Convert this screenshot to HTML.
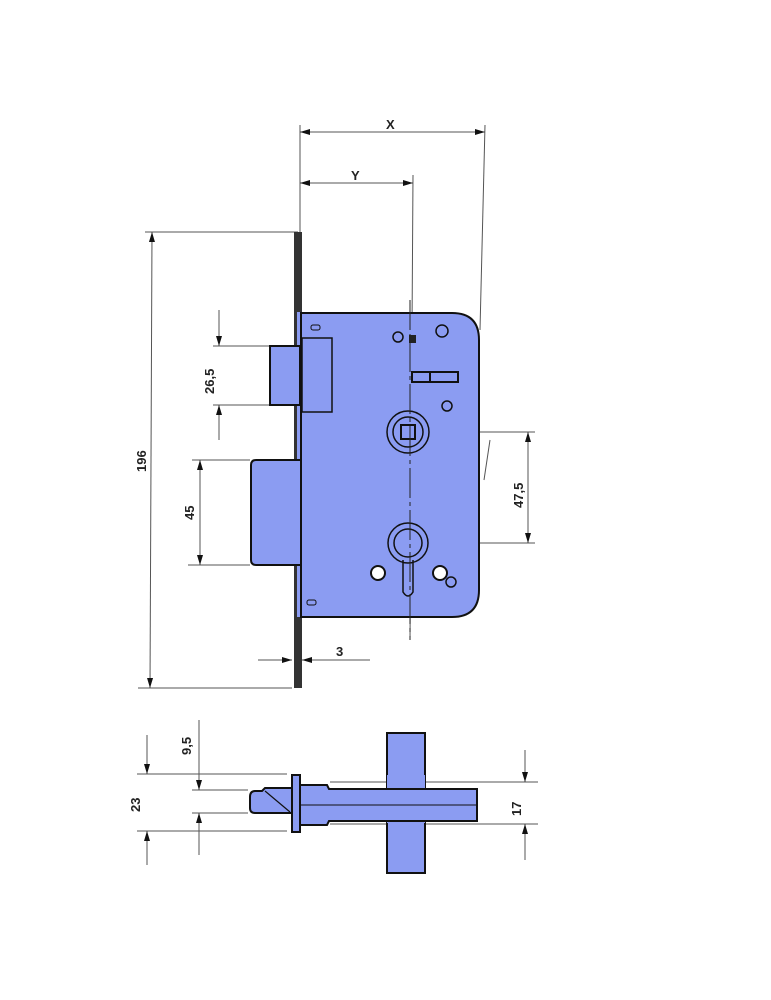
<!DOCTYPE html>
<html><head><meta charset="utf-8"><style>
html,body{margin:0;padding:0;background:#fff;}
svg{display:block;}
text{font-family:"Liberation Sans",sans-serif;font-size:13px;font-weight:bold;fill:#222;}
</style></head><body>
<svg width="771" height="1000" viewBox="0 0 771 1000" xmlns="http://www.w3.org/2000/svg">
<defs>
<marker id="a" viewBox="0 0 10 6" refX="10" refY="3" markerWidth="10" markerHeight="6" orient="auto-start-reverse" markerUnits="userSpaceOnUse">
<path d="M0,0 L10,3 L0,6 z" fill="#111"/></marker>
</defs>
<g stroke="#555" stroke-width="1" fill="none">
<line x1="300" y1="125" x2="300" y2="232"/>
<line x1="485" y1="125" x2="480" y2="330"/>
<line x1="413" y1="175" x2="410" y2="640"/>
<line x1="300" y1="132" x2="485" y2="132" marker-start="url(#a)" marker-end="url(#a)"/>
<line x1="300" y1="183" x2="413" y2="183" marker-start="url(#a)" marker-end="url(#a)"/>
<line x1="145" y1="232" x2="298" y2="232"/>
<line x1="138" y1="688" x2="292" y2="688"/>
<line x1="152" y1="232" x2="150" y2="688" marker-start="url(#a)" marker-end="url(#a)"/>
<line x1="213" y1="346" x2="270" y2="346"/>
<line x1="213" y1="405" x2="270" y2="405"/>
<line x1="219" y1="310" x2="219" y2="346" marker-end="url(#a)"/>
<line x1="219" y1="440" x2="219" y2="405" marker-end="url(#a)"/>
<line x1="192" y1="460" x2="250" y2="460"/>
<line x1="188" y1="565" x2="250" y2="565"/>
<line x1="200" y1="460" x2="200" y2="565" marker-start="url(#a)" marker-end="url(#a)"/>
<line x1="385" y1="432" x2="535" y2="432"/>
<line x1="385" y1="543" x2="535" y2="543"/>
<line x1="528" y1="432" x2="528" y2="543" marker-start="url(#a)" marker-end="url(#a)"/>
<line x1="490" y1="440" x2="484" y2="480"/>
<line x1="258" y1="660" x2="292" y2="660" marker-end="url(#a)"/>
<line x1="370" y1="660" x2="302" y2="660" marker-end="url(#a)"/>
</g>
<rect x="294" y="232" width="8" height="456" fill="#333"/>
<rect x="297" y="312" width="4" height="305" fill="#8b9cf2"/>
<rect x="270" y="346" width="30" height="59" fill="#8b9cf2" stroke="#111" stroke-width="2"/>
<path d="M300,460 L256,460 Q251,460 251,465 L251,560 Q251,565 256,565 L300,565" fill="#8b9cf2" stroke="#111" stroke-width="2"/>
<path d="M301,313 L452,313 Q479,313 479,340 L479,590 Q479,617 452,617 L301,617 z" fill="#8b9cf2" stroke="#111" stroke-width="2"/>
<rect x="302" y="338" width="30" height="74" fill="none" stroke="#111" stroke-width="1.5"/>
<rect x="311" y="325" width="9" height="5" rx="2" fill="none" stroke="#111"/>
<rect x="307" y="600" width="9" height="5" rx="2" fill="none" stroke="#111"/>
<circle cx="398" cy="337" r="5" fill="none" stroke="#111" stroke-width="1.5"/>
<rect x="409" y="335" width="7" height="8" fill="#222"/>
<circle cx="442" cy="331" r="6" fill="none" stroke="#111" stroke-width="1.5"/>
<rect x="412" y="372" width="46" height="10" fill="none" stroke="#111" stroke-width="2"/>
<line x1="430" y1="372" x2="430" y2="382" stroke="#111" stroke-width="2"/>
<circle cx="447" cy="406" r="5" fill="none" stroke="#111" stroke-width="1.5"/>
<circle cx="408" cy="432" r="21" fill="none" stroke="#111" stroke-width="1.5"/>
<circle cx="408" cy="432" r="15" fill="none" stroke="#111" stroke-width="1.5"/>
<rect x="401" y="425" width="14" height="14" fill="none" stroke="#111" stroke-width="2"/>
<circle cx="408" cy="543" r="20" fill="none" stroke="#111" stroke-width="1.5"/>
<circle cx="408" cy="543" r="14" fill="none" stroke="#111" stroke-width="1.5"/>
<path d="M403,560 L403,592 Q408,600 413,592 L413,560" fill="none" stroke="#111" stroke-width="1.5"/>
<circle cx="378" cy="573" r="7" fill="#fff" stroke="#111" stroke-width="2"/>
<circle cx="440" cy="573" r="7" fill="#fff" stroke="#111" stroke-width="2"/>
<circle cx="451" cy="582" r="5" fill="none" stroke="#111" stroke-width="1.5"/>
<g stroke="#222" stroke-width="1" stroke-dasharray="30,4,4,4">
<line x1="410" y1="300" x2="410" y2="640"/>
</g>
<g stroke="#555" stroke-width="1" fill="none">
<line x1="137" y1="774" x2="287" y2="774"/>
<line x1="137" y1="831" x2="287" y2="831"/>
<line x1="147" y1="735" x2="147" y2="774" marker-end="url(#a)"/>
<line x1="147" y1="865" x2="147" y2="831" marker-end="url(#a)"/>
<line x1="192" y1="790" x2="248" y2="790"/>
<line x1="192" y1="813" x2="248" y2="813"/>
<line x1="199" y1="720" x2="199" y2="790" marker-end="url(#a)"/>
<line x1="199" y1="855" x2="199" y2="813" marker-end="url(#a)"/>
<line x1="330" y1="782" x2="538" y2="782"/>
<line x1="330" y1="824" x2="538" y2="824"/>
<line x1="525" y1="750" x2="525" y2="782" marker-end="url(#a)"/>
<line x1="525" y1="860" x2="525" y2="824" marker-end="url(#a)"/>
</g>
<g fill="#8b9cf2" stroke="#111" stroke-width="2">
<rect x="387" y="733" width="38" height="140"/>
<path d="M300,785 L327,785 L329,789 L477,789 L477,821 L329,821 L327,825 L300,825 z"/>
<rect x="387" y="775" width="38" height="48" stroke="none"/>
<line x1="387" y1="789" x2="425" y2="789"/>
<line x1="387" y1="821" x2="425" y2="821"/>
<path d="M292,788 L265,788 L262,791 L255,791 Q250,791 250,797 L250,808 Q250,813 255,813 L292,813 z"/>
<rect x="292" y="775" width="8" height="57"/>
</g>
<line x1="265" y1="791" x2="290" y2="812" stroke="#111" stroke-width="1.2"/>
<line x1="300" y1="805" x2="477" y2="805" stroke="#111" stroke-width="1"/>
<text x="386" y="129">X</text>
<text x="351" y="180">Y</text>
<text x="336" y="656">3</text>
<text transform="translate(146,472) rotate(-90)">196</text>
<text transform="translate(214,394) rotate(-90)">26,5</text>
<text transform="translate(194,520) rotate(-90)">45</text>
<text transform="translate(523,508) rotate(-90)">47,5</text>
<text transform="translate(191,755) rotate(-90)">9,5</text>
<text transform="translate(140,812) rotate(-90)">23</text>
<text transform="translate(521,816) rotate(-90)">17</text>
</svg>
</body></html>
